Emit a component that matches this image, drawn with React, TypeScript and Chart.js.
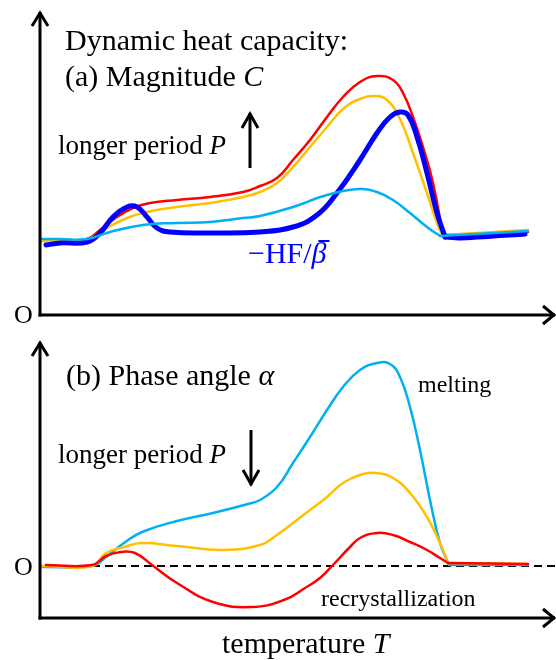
import React, { useEffect, useRef } from 'react';
import { Chart, registerables } from 'chart.js';

Chart.register(...registerables);

const SERIF = '"Liberation Serif", "Times New Roman", serif';

// ---------- Panel (a): dynamic heat capacity magnitude C (arbitrary units) ----------
const aRedT = [1, 20, 47, 60, 77, 93, 110, 137, 170, 203, 220, 237, 253, 270, 287, 303, 320, 337, 353, 363, 373, 383, 393, 403, 488];
const aRedC = [74, 75, 76, 85, 98, 107, 112, 115, 118, 123, 129, 137, 155, 175, 198, 218, 233, 239, 235, 222, 198, 168, 132, 80, 83];

const aYellowT = [1, 20, 47, 63, 87, 107, 137, 170, 203, 220, 237, 253, 270, 287, 303, 320, 335, 347, 360, 373, 387, 397, 402, 488];
const aYellowC = [74, 74, 75, 85, 97, 103, 108, 112, 118, 123, 132, 148, 168, 188, 206, 216, 219, 215, 196, 162, 122, 92, 80, 85];

const aCyanT = [1, 20, 47, 70, 103, 137, 170, 203, 220, 253, 287, 320, 337, 353, 370, 387, 400, 488];
const aCyanC = [76, 76, 76, 83, 90, 92, 93, 97, 99, 108, 120, 126, 123, 115, 102, 88, 79, 84];

const aBlueT = [6, 20, 47, 60, 73, 87, 97, 107, 117, 130, 170, 220, 253, 277, 297, 320, 337, 350, 360, 368, 377, 387, 397, 405, 420, 485];
const aBlueC = [70, 72, 73, 82, 98, 108, 108, 98, 87, 83, 82, 83, 88, 100, 122, 155, 182, 198, 203, 200, 178, 142, 102, 78, 77, 81];

// ---------- Panel (b): phase angle alpha (arbitrary units, 0 = dashed line) ----------
const bCyanT = [1, 52, 66, 84, 102, 137, 173, 208, 220, 237, 253, 270, 287, 303, 320, 337, 350, 360, 370, 380, 390, 400, 409, 488];
const bCyanA = [-1, 0, 9, 23, 34, 45, 53, 62, 66, 79, 103, 129, 156, 179, 196, 203, 202, 189, 159, 116, 66, 23, 1, 1];

const bYellowT = [1, 52, 66, 84, 102, 137, 183, 220, 237, 253, 270, 287, 303, 320, 335, 353, 370, 387, 400, 408, 488];
const bYellowA = [0, 0, 13, 19, 23, 20, 16, 21, 31, 43, 56, 69, 83, 91, 93, 88, 73, 49, 23, 3, 2];

const bRedT = [6, 52, 66, 81, 95, 112, 137, 173, 212, 244, 265, 280, 293, 310, 320, 337, 353, 370, 387, 400, 408, 488];
const bRedA = [1, 1, 10, 14, 13, 1, -17, -36, -41, -34, -22, -12, 1, 19, 28, 33, 31, 24, 16, 8, 3, 2];

// axis ranges
const X_MIN = 0;
const X_MAX = 515;
const A_Y_MIN = 0;
const A_Y_MAX = 303;
const B_Y_MIN = -52;
const B_Y_MAX = 224;

// texts
const titleA1 = 'Dynamic heat capacity:';
const titleA2: [string, boolean][] = [['(a) Magnitude ', false], ['C', true]];
const periodLabel: [string, boolean][] = [['longer period ', false], ['P', true]];
const hfLabel = '\u2212HF/';
const betaLabel = '\u03B2';
const titleB: [string, boolean][] = [['(b) Phase angle ', false], ['\u03B1', true]];
const meltLabel = 'melting';
const recrystLabel = 'recrystallization';
const xTitle: [string, boolean][] = [['temperature ', false], ['T', true]];
const originLabel = 'O';

const RED = '#ff0000';
const YELLOW = '#ffc000';
const CYAN = '#00b0f0';
const BLUE = '#0000ff';

function pts(t: number[], v: number[]) {
  return t.map((x, i) => ({ x, y: v[i] }));
}

function drawRich(ctx: CanvasRenderingContext2D, segs: [string, boolean][], x: number, y: number, size: number, color: string) {
  let cx = x;
  ctx.fillStyle = color;
  ctx.textBaseline = 'alphabetic';
  ctx.textAlign = 'left';
  for (const [t, it] of segs) {
    ctx.font = `${it ? 'italic ' : ''}${size}px ${SERIF}`;
    ctx.fillText(t, cx, y);
    cx += ctx.measureText(t).width;
  }
  return cx;
}

function line(ctx: CanvasRenderingContext2D, pts2: number[][], w = 3) {
  ctx.beginPath();
  ctx.moveTo(pts2[0][0], pts2[0][1]);
  for (let i = 1; i < pts2.length; i++) ctx.lineTo(pts2[i][0], pts2[i][1]);
  ctx.lineWidth = w;
  ctx.strokeStyle = '#000';
  ctx.lineCap = 'butt';
  ctx.lineJoin = 'miter';
  ctx.stroke();
}

function drawAxes(ctx: CanvasRenderingContext2D, ca: any) {
  const x0 = ca.left;
  const y0 = ca.bottom;
  line(ctx, [[x0, y0 + 1.5], [x0, ca.top]]);
  line(ctx, [[x0 - 8, ca.top + 14], [x0, ca.top + 1], [x0 + 8, ca.top + 14]]);
  line(ctx, [[x0 - 1.5, y0], [ca.right, y0]]);
  line(ctx, [[ca.right - 12, y0 - 9], [ca.right - 1, y0], [ca.right - 12, y0 + 9]]);
}

function drawVArrow(ctx: CanvasRenderingContext2D, x: number, y1: number, y2: number, up: boolean) {
  line(ctx, [[x, y1], [x, y2]]);
  if (up) {
    line(ctx, [[x - 8, y1 + 15], [x, y1 + 1], [x + 8, y1 + 15]]);
  } else {
    line(ctx, [[x - 8, y2 - 15], [x, y2 - 1], [x + 8, y2 - 15]]);
  }
}

const panelAPlugin = {
  id: 'panelA',
  afterDatasetsDraw(chart: any) {
    const ctx = chart.ctx as CanvasRenderingContext2D;
    ctx.save();
    drawAxes(ctx, chart.chartArea);
    drawRich(ctx, [[titleA1, false]], 65, 50, 30, '#000');
    drawRich(ctx, titleA2, 65, 86, 30, '#000');
    drawRich(ctx, periodLabel, 58, 154, 27, '#000');
    drawVArrow(ctx, 250, 113, 168, true);
    const bx = drawRich(ctx, [[hfLabel, false]], 248, 263, 30, BLUE);
    ctx.font = `italic 30px ${SERIF}`;
    ctx.fillText(betaLabel, bx, 263);
    const bw = ctx.measureText(betaLabel).width;
    ctx.beginPath();
    ctx.moveTo(bx + bw * 0.45, 241);
    ctx.lineTo(bx + bw + 3, 241);
    ctx.lineWidth = 2;
    ctx.strokeStyle = BLUE;
    ctx.stroke();
    drawRich(ctx, [[originLabel, false]], 14, 323, 26, '#000');
    ctx.restore();
  },
};

const panelBPlugin = {
  id: 'panelB',
  beforeDatasetsDraw(chart: any) {
    const ctx = chart.ctx as CanvasRenderingContext2D;
    const ca = chart.chartArea;
    const y0 = chart.scales.y.getPixelForValue(0);
    ctx.save();
    ctx.beginPath();
    ctx.setLineDash([8, 5]);
    ctx.moveTo(ca.left, y0);
    ctx.lineTo(ca.right, y0);
    ctx.lineWidth = 2;
    ctx.strokeStyle = '#000';
    ctx.stroke();
    ctx.restore();
  },
  afterDatasetsDraw(chart: any) {
    const ctx = chart.ctx as CanvasRenderingContext2D;
    const ca = chart.chartArea;
    const y0 = chart.scales.y.getPixelForValue(0);
    ctx.save();
    drawAxes(ctx, ca);
    drawRich(ctx, titleB, 66, 55, 30, '#000');
    drawRich(ctx, periodLabel, 58, 133, 27, '#000');
    drawVArrow(ctx, 251, 100, 155, false);
    drawRich(ctx, [[meltLabel, false]], 418, 62, 24, '#000');
    drawRich(ctx, [[recrystLabel, false]], 321, 276, 24, '#000');
    drawRich(ctx, xTitle, 222, 323, 30, '#000');
    drawRich(ctx, [[originLabel, false]], 14, y0 + 9, 26, '#000');
    ctx.restore();
  },
};

function ds(label: string, data: any[], color: string, width: number, tension: number) {
  return {
    label,
    data,
    borderColor: color,
    backgroundColor: color,
    borderWidth: width,
    pointRadius: 0,
    pointHoverRadius: 0,
    fill: false,
    tension,
    borderCapStyle: 'round' as const,
    borderJoinStyle: 'round' as const,
  };
}

// smooth curve up to the sharp corner after the melting drop, straight tail afterwards
function curve(label: string, t: number[], v: number[], tailPts: number, color: string, width: number) {
  const all = pts(t, v);
  const cut = all.length - tailPts;
  return [
    ds(label, all.slice(0, cut), color, width, 0.45),
    ds(label + ' tail', all.slice(cut - 1), color, width, 0.2),
  ];
}

function baseOptions(yMin: number, yMax: number, padBottom: number) {
  return {
    responsive: false,
    animation: false as const,
    events: [] as any[],
    layout: { padding: { left: 40, right: 1, top: 12, bottom: padBottom } },
    plugins: { legend: { display: false }, tooltip: { enabled: false }, title: { display: false } },
    scales: {
      x: { type: 'linear' as const, display: false, min: X_MIN, max: X_MAX },
      y: { type: 'linear' as const, display: false, min: yMin, max: yMax },
    },
  };
}

export default function App() {
  const refA = useRef<HTMLCanvasElement>(null);
  const refB = useRef<HTMLCanvasElement>(null);

  useEffect(() => {
    const chartA = new Chart(refA.current as HTMLCanvasElement, {
      type: 'line',
      data: {
        datasets: [
          ...curve('cyan', aCyanT, aCyanC, 1, CYAN, 2.5),
          ...curve('-HF/beta', aBlueT, aBlueC, 2, BLUE, 5),
          ...curve('yellow', aYellowT, aYellowC, 1, YELLOW, 2.5),
          ...curve('red', aRedT, aRedC, 1, RED, 2.5),
        ],
      },
      options: baseOptions(A_Y_MIN, A_Y_MAX, 15) as any,
      plugins: [panelAPlugin],
    });
    const chartB = new Chart(refB.current as HTMLCanvasElement, {
      type: 'line',
      data: {
        datasets: [
          ...curve('red', bRedT, bRedA, 1, RED, 2.5),
          ...curve('yellow', bYellowT, bYellowA, 1, YELLOW, 2.5),
          ...curve('cyan', bCyanT, bCyanA, 1, CYAN, 2.5),
        ],
      },
      options: baseOptions(B_Y_MIN, B_Y_MAX, 42) as any,
      plugins: [panelBPlugin],
    });
    return () => {
      chartA.destroy();
      chartB.destroy();
    };
  }, []);

  return (
    <div style={{ position: 'fixed', left: 0, top: 0, width: 556, height: 660, background: '#fff' }}>
      <canvas ref={refA} width={556} height={330} style={{ position: 'absolute', left: 0, top: 0, display: 'block' }} />
      <canvas ref={refB} width={556} height={330} style={{ position: 'absolute', left: 0, top: 330, display: 'block' }} />
    </div>
  );
}
